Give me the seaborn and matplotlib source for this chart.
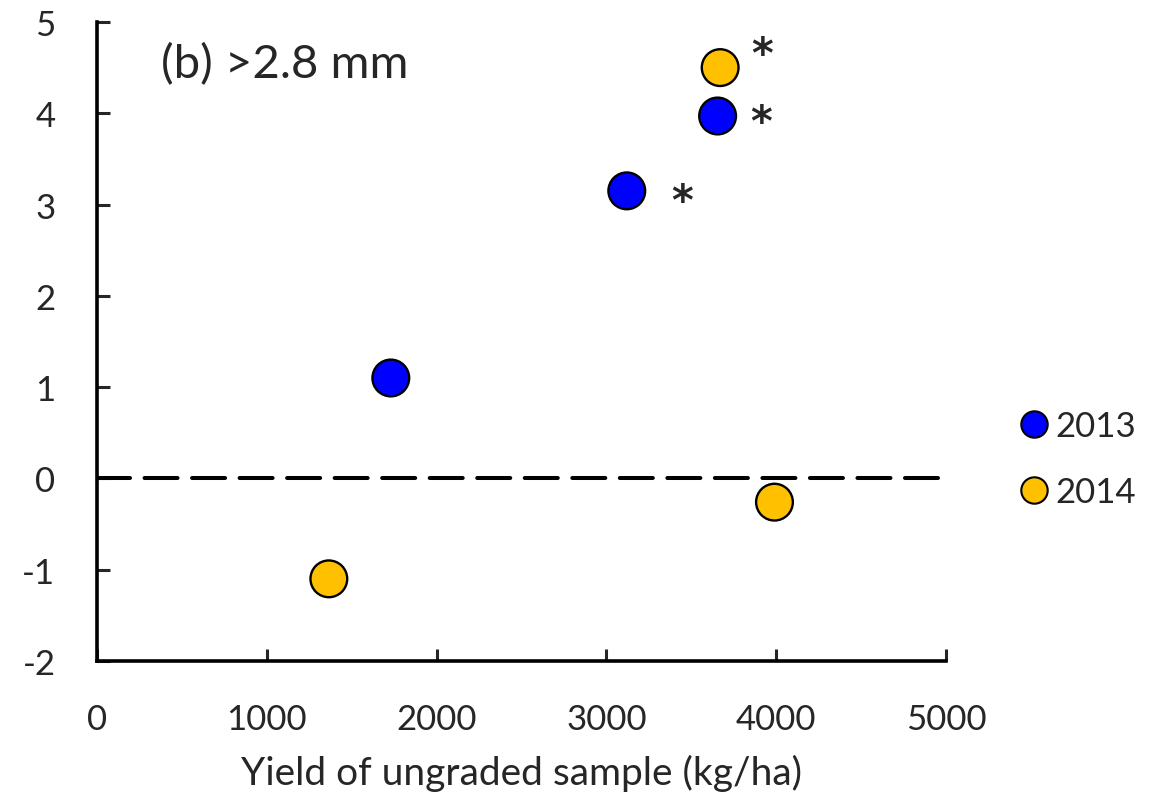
import numpy as np
import pandas as pd
import matplotlib
matplotlib.use("Agg")
import matplotlib.pyplot as plt
import seaborn as sns

# data
years = ["2013", "2013", "2013", "2014", "2014", "2014"]
yield_kg = [1730, 3120, 3655, 3670, 1365, 3990]
change = [1.10, 3.15, 3.97, 4.50, -1.10, -0.26]
signif = [False, True, True, True, False, False]

colors = {"2013": "#0000FF", "2014": "#FFC000"}

df = pd.DataFrame({"year": years, "yield": yield_kg, "change": change, "sig": signif})

sns.set_style("white")
plt.rcParams["font.family"] = ["Lato", "DejaVu Sans"]
plt.rcParams["axes.unicode_minus"] = False

fig = plt.figure(figsize=(11.7, 8.03), dpi=100)
ax = fig.add_axes([0.083, 0.1756, 0.7255, 0.7958])

ax.plot([0, 5000], [0, 0], color="black", lw=2.9, dashes=(8.2, 3.6),
        dash_capstyle="round", zorder=1)

sns.scatterplot(data=df, x="yield", y="change", hue="year", palette=colors,
                s=700, edgecolor="black", linewidth=1.7, ax=ax, zorder=3,
                legend=False)

# asterisks for significant points
offsets = {3120: (40, -8), 3655: (31, -5), 3670: (30, 9)}
for _, r in df[df.sig].iterrows():
    dx, dy = offsets[r["yield"]]
    ax.annotate("*", (r["yield"], r["change"]), xytext=(dx, dy),
                textcoords="offset points", ha="center", va="center",
                fontsize=30, fontweight="bold", family="DejaVu Sans")

ax.set_xlim(0, 5000)
ax.set_ylim(-2, 5)
ax.set_xticks(np.arange(0, 5001, 1000))
ax.set_yticks(np.arange(-2, 6, 1))
ax.tick_params(direction="in", length=9, width=2.2, labelsize=25,
               left=True, bottom=True)
ax.tick_params(axis="x", pad=30)
ax.tick_params(axis="y", pad=30)
for side in ["top", "right"]:
    ax.spines[side].set_visible(False)
for side in ["left", "bottom"]:
    ax.spines[side].set_linewidth(2.6)
    ax.spines[side].set_color("black")

ax.set_xlabel("Yield of ungraded sample (kg/ha)", fontsize=28, labelpad=14)
ax.set_ylabel("")
ax.text(0.075, 0.935, "(b) >2.8 mm", transform=ax.transAxes, fontsize=34,
        va="center")

handles = [plt.Line2D([], [], marker="o", ls="", markersize=19,
                      markerfacecolor=colors[y], markeredgecolor="black",
                      markeredgewidth=1.5) for y in ["2013", "2014"]]
fig.legend(handles, ["2013", "2014"], loc="center left",
           bbox_to_anchor=(0.841, 0.427), frameon=False, fontsize=25,
           handletextpad=0.05, labelspacing=1.0, handlelength=1.1)

fig.savefig("out.png", dpi=100, facecolor="white")
